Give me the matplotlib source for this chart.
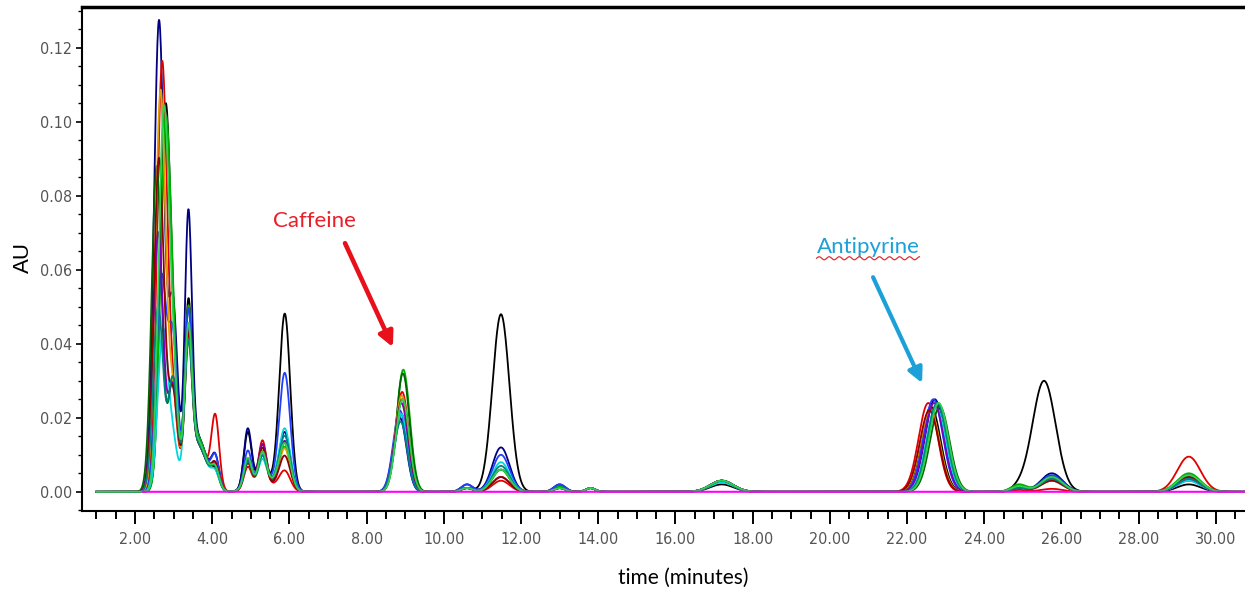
import numpy as np
import matplotlib.pyplot as plt
from matplotlib.ticker import MultipleLocator, FuncFormatter
from matplotlib.lines import Line2D

# colores de las trazas (orden de dibujo)
colores = ['#000000', '#000080', '#e00000', '#00b000', '#2040ff', '#00d8e0',
           '#006400', '#e0a000', '#8000c0', '#900000', '#008080', '#30d050']

# tiempos de retencion nominales (min) y anchura (sigma) de cada pico
# None -> el tiempo depende de la traza (front_rt, caf_rt, anti_rt)
t_picos = [None, 2.98, 3.38, 3.60, 4.08, 4.92, 5.30, 5.40, 5.88, None,
           10.60, 11.48, 13.00, 13.80, 17.20, None, 24.90, 25.55, 25.75, 29.30]
sigma_picos = [0.13, 0.12, 0.09, 0.25, 0.10, 0.10, 0.10, 0.35, 0.14, 0.17,
               0.15, 0.22, 0.15, 0.12, 0.30, 0.25, 0.20, 0.30, 0.28, 0.30]

front_rt = [2.78, 2.62, 2.70, 2.78, 2.68, 2.72, 2.56, 2.66, 2.60, 2.62, 2.60, 2.74]
caf_rt = [8.90, 8.86, 8.92, 8.95, 8.86, 8.90, 8.94, 8.91, 8.90, 8.92, 8.88, 8.93]
anti_rt = [22.62, 22.72, 22.55, 22.80, 22.68, 22.75, 22.85, 22.60, 22.70, 22.58, 22.78, 22.82]

# alturas (AU) por traza y pico
alturas = [
    [0.098, 0.025, 0.042, 0.015, 0.004, 0.015, 0.008, 0.003, 0.047, 0.021, 0.001, 0.048, 0.0015, 0.001, 0.002, 0.023, 0.001, 0.030, 0.000, 0.002],
    [0.127, 0.050, 0.066, 0.015, 0.008, 0.016, 0.010, 0.003, 0.015, 0.020, 0.002, 0.012, 0.002, 0.001, 0.003, 0.025, 0.001, 0.000, 0.005, 0.0045],
    [0.115, 0.022, 0.036, 0.013, 0.019, 0.006, 0.012, 0.002, 0.005, 0.027, 0.001, 0.003, 0.001, 0.001, 0.003, 0.024, 0.0005, 0.000, 0.0008, 0.0095],
    [0.093, 0.030, 0.040, 0.015, 0.005, 0.008, 0.008, 0.003, 0.011, 0.033, 0.001, 0.006, 0.0015, 0.001, 0.003, 0.024, 0.002, 0.000, 0.004, 0.005],
    [0.057, 0.040, 0.040, 0.014, 0.008, 0.010, 0.007, 0.003, 0.031, 0.022, 0.002, 0.010, 0.002, 0.001, 0.003, 0.025, 0.001, 0.000, 0.0045, 0.003],
    [0.043, 0.012, 0.036, 0.013, 0.004, 0.007, 0.006, 0.003, 0.016, 0.021, 0.001, 0.008, 0.001, 0.001, 0.0025, 0.023, 0.001, 0.000, 0.003, 0.003],
    [0.088, 0.030, 0.034, 0.014, 0.005, 0.007, 0.008, 0.003, 0.012, 0.032, 0.001, 0.006, 0.001, 0.001, 0.003, 0.023, 0.0015, 0.000, 0.004, 0.004],
    [0.108, 0.025, 0.032, 0.013, 0.006, 0.007, 0.009, 0.002, 0.011, 0.026, 0.001, 0.004, 0.001, 0.001, 0.003, 0.022, 0.001, 0.000, 0.003, 0.0035],
    [0.070, 0.028, 0.036, 0.013, 0.006, 0.008, 0.011, 0.002, 0.013, 0.024, 0.001, 0.004, 0.001, 0.001, 0.003, 0.024, 0.001, 0.000, 0.0035, 0.0035],
    [0.090, 0.026, 0.034, 0.013, 0.006, 0.007, 0.010, 0.002, 0.009, 0.025, 0.001, 0.004, 0.001, 0.001, 0.003, 0.022, 0.001, 0.000, 0.003, 0.004],
    [0.050, 0.030, 0.032, 0.013, 0.005, 0.007, 0.007, 0.003, 0.014, 0.019, 0.001, 0.007, 0.001, 0.001, 0.003, 0.024, 0.001, 0.000, 0.0035, 0.0035],
    [0.100, 0.030, 0.036, 0.014, 0.005, 0.008, 0.008, 0.003, 0.012, 0.025, 0.001, 0.006, 0.001, 0.001, 0.003, 0.024, 0.0015, 0.000, 0.004, 0.0045],
]

t = np.arange(1.0, 30.8, 0.01)

fig = plt.figure(figsize=(12.45, 5.97), dpi=100)
ax = fig.add_axes([0.0659, 0.144, 0.9341, 0.844])

for i, color in enumerate(colores):
    y = np.zeros_like(t)
    for j, h in enumerate(alturas[i]):
        rt = t_picos[j]
        if j == 0:
            rt = front_rt[i]
        elif j == 9:
            rt = caf_rt[i]
        elif j == 15:
            rt = anti_rt[i]
        y += h * np.exp(-0.5 * ((t - rt) / sigma_picos[j]) ** 2)
    ax.plot(t, y, color=color, lw=1.3)

# linea base (blanco)
ax.plot(t[t >= 2.2], np.zeros((t >= 2.2).sum()), color='#ff00ff', lw=1.5)

ax.set_xlim(0.627, 30.756)
ax.set_ylim(-0.0052, 0.1310)

ax.spines['right'].set_visible(False)
ax.spines['top'].set_linewidth(2.5)
ax.spines['left'].set_linewidth(1.5)
ax.spines['bottom'].set_linewidth(1.5)

ax.xaxis.set_major_locator(MultipleLocator(2))
ax.xaxis.set_minor_locator(MultipleLocator(0.5))
ax.yaxis.set_major_locator(MultipleLocator(0.02))
ax.yaxis.set_minor_locator(MultipleLocator(0.005))
ax.xaxis.set_major_formatter(FuncFormatter(lambda v, p: '%.2f' % v if v >= 2 else ''))
ax.yaxis.set_major_formatter(FuncFormatter(lambda v, p: '%.2f' % v))

ax.tick_params(axis='x', which='major', direction='out', length=9, width=1.4, pad=6)
ax.tick_params(axis='x', which='minor', direction='out', length=6, width=1.4)
ax.tick_params(axis='y', which='major', direction='out', length=4, width=1.2, pad=3)
ax.tick_params(axis='y', which='minor', direction='out', length=3, width=1.0)
for lab in ax.get_xticklabels() + ax.get_yticklabels():
    lab.set_family(['DejaVu Sans'])
    lab.set_stretch('condensed')
    lab.set_fontsize(11.5)
    lab.set_color('#555555')

ax.set_xlabel('time (minutes)', family=['Lato', 'DejaVu Sans'], fontsize=15, va='top')
ax.xaxis.set_label_coords(0.5168, -0.112)
ax.set_ylabel('AU', family=['Liberation Sans', 'DejaVu Sans'], fontsize=16)
ax.yaxis.set_label_coords(-0.0413, 0.504)

# anotaciones
ax.text(6.64, 0.0731, 'Caffeine', color='#e8202a', fontsize=16,
        family=['Lato', 'DejaVu Sans'], ha='center', va='center')
ax.annotate('', xy=(8.68, 0.0391), xytext=(7.44, 0.0672),
            arrowprops=dict(arrowstyle='-|>', color='#e8101a', lw=3.3, mutation_scale=22,
                            shrinkA=0, shrinkB=0))
anti = ax.text(20.99, 0.0661, 'Antipyrine', color='#1ca0d8', fontsize=16,
               family=['Lato', 'DejaVu Sans'], ha='center', va='center')
ax.annotate('', xy=(22.39, 0.0294), xytext=(21.12, 0.0580),
            arrowprops=dict(arrowstyle='-|>', color='#1ca0d8', lw=3, mutation_scale=22,
                            shrinkA=0, shrinkB=0))

# subrayado ondulado bajo "Antipyrine"
fig.canvas.draw()
bb = anti.get_window_extent()
xs = np.linspace(bb.x0, bb.x1, 200)
ys = bb.y0 - 1 + 1.5 * np.sin((xs - bb.x0) / 1.6)
fx, fy = fig.transFigure.inverted().transform(np.column_stack([xs, ys])).T
fig.add_artist(Line2D(fx, fy, color='#e03030', lw=0.9))

fig.savefig('out.png', dpi=100)
